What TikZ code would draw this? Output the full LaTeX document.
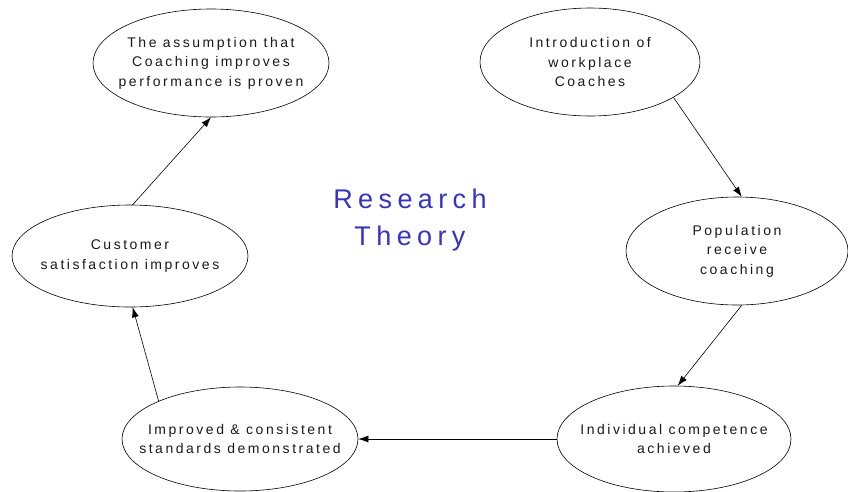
\documentclass[tikz,border=0pt]{standalone}
\usepackage{fontspec}
\setmainfont{Liberation Sans}
\newfontfamily\spaced[LetterSpace=18]{Liberation Sans}
\newfontfamily\wide[LetterSpace=20]{Liberation Sans}
\usepackage{tikz}
\usetikzlibrary{shapes,arrows.meta}
\definecolor{titleblue}{RGB}{51,51,204}
\tikzset{>={Latex[length=10pt,width=7pt]}}
\tikzset{stage/.style={draw,ellipse,line width=0.6pt,inner sep=0pt},
    stagetext/.style={align=center,inner sep=0pt,
    font=\spaced\fontsize{14}{19.5}\selectfont,text=black!90}}

\begin{document}
\begin{tikzpicture}[line cap=round,line join=round,x=1pt,y=-1pt]
	\useasboundingbox (0,0) rectangle (848,491);
	% the six stages
	\node[stage,minimum width=236pt,minimum height=108pt] (assum) at (211,63) {};
	\node[stage,minimum width=220pt,minimum height=108pt] (intro) at (590,62) {};
	\node[stage,minimum width=222pt,minimum height=108pt] (pop) at (737,251) {};
	\node[stage,minimum width=234pt,minimum height=106pt] (indiv) at (674,439) {};
	\node[stage,minimum width=236pt,minimum height=104pt] (impr) at (240,439) {};
	\node[stage,minimum width=236pt,minimum height=102pt] (cust) at (130,256) {};
	\node[stagetext] (assum-t) at (assum) {The assumption that\\Coaching improves\\performance is proven};
	\node[stagetext] (intro-t) at (intro) {Introduction of\\workplace\\Coaches};
	\node[stagetext] (pop-t) at (pop) {Population\\receive\\coaching};
	\node[stagetext] (indiv-t) at (indiv) {Individual competence\\achieved};
	\node[stagetext] (impr-t) at (impr) {Improved \& consistent\\standards demonstrated};
	\node[stagetext] (cust-t) at (cust) {Customer\\satisfaction improves};
	% title
	\node[align=center,text=titleblue,font=\wide\fontsize{27}{37}\selectfont] (title) at (410,220) {Research\\Theory};
	% cycle
	\draw[->,line width=0.6pt] (intro.-23) -- (pop.85);
	\draw[->,line width=0.6pt] (pop.-85) -- (indiv.86);
	\draw[->,line width=0.6pt] (indiv.180) -- (impr.0);
	\draw[->,line width=0.6pt] (impr.155) -- (cust.-87);
	\draw[->,line width=0.6pt] (cust.87) -- (assum.-90);
\end{tikzpicture}
\end{document}
